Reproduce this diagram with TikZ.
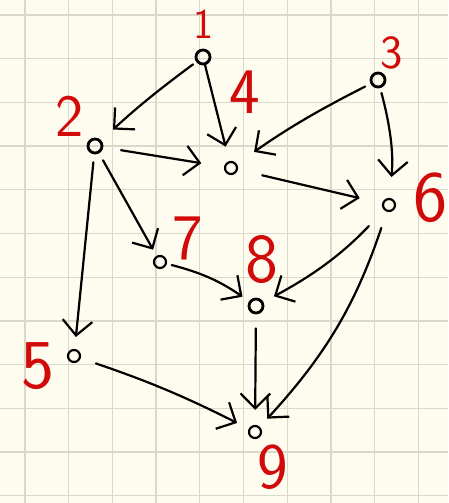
\documentclass[tikz,border=0pt]{standalone}
\usetikzlibrary{arrows.meta}
\definecolor{paper}{HTML}{FDFCEE}
\definecolor{gridc}{HTML}{D9D8CB}
\definecolor{inkred}{HTML}{D10A0A}
\begin{document}
\begin{tikzpicture}[x=1pt,y=1pt,
  vtx/.style={circle,draw=black,line width=2.2pt,minimum size=12pt,inner sep=0pt},
  vtxb/.style={vtx,line width=2.8pt,minimum size=14pt},
  lab/.style={text=inkred,font=\sffamily\fontsize{50}{50}\selectfont,inner sep=0pt},
  arr/.style={-{Straight Barb[angle=90:21pt,line width=2.2pt]},line width=2.2pt,line cap=round}]
\fill[paper] (0,0) rectangle (448,503);
\useasboundingbox (0,0) rectangle (448,503);
\foreach \k in {0,...,9} \draw[gridc,line width=1.3pt] ({25+43.7*\k},0) -- ({25+43.7*\k},503);
\foreach \k in {0,...,11} \draw[gridc,line width=1.3pt] (0,{488-43.7*\k}) -- (448,{488-43.7*\k});
% vertices
\node[vtxb] (n1) at (203,446) {};
\node[vtxb] (n2) at (95,357) {};
\node[vtxb] (n3) at (378,423) {};
\node[vtx]  (n4) at (231,335) {};
\node[vtx]  (n5) at (74,147) {};
\node[vtx]  (n6) at (389,298) {};
\node[vtx]  (n7) at (160,241) {};
\node[vtxb] (n8) at (256,197) {};
\node[vtx]  (n9) at (255,71) {};
% labels
\node[lab,scale=0.85] (l1) at (203,479) {1};
\node[lab,scale=1.2]  (l2) at (70,387) {2};
\node[lab,scale=0.95] (l3) at (392,450) {3};
\node[lab,scale=1.3]  (l4) at (245,411) {4};
\node[lab,scale=1.4]  (l5) at (38,137) {5};
\node[lab,scale=1.45] (l6) at (431,305) {6};
\node[lab,scale=1.3]  (l7) at (188,265) {7};
\node[lab,scale=1.4]  (l8) at (262,243) {8};
\node[lab,scale=1.3]  (l9) at (273,36) {9};
% edges
\draw[arr,shorten <=4pt,shorten >=16pt] (n1) to[bend right=3] (n2);
\draw[arr,shorten <=0pt,shorten >=15pt] (n1) to (n4);
\draw[arr,shorten <=6pt,shorten >=21pt] (n3) to[bend right=4] (n4);
\draw[arr,shorten <=5pt,shorten >=21pt] (n3) to[bend left=10] (n6);
\draw[arr,shorten <=18pt,shorten >=23pt] (n2) to (n4);
\draw[arr,shorten <=25pt,shorten >=23pt] (n4) to (n6);
\draw[arr,shorten <=8pt,shorten >=12pt] (n2) to (n5);
\draw[arr,shorten <=8pt,shorten >=7pt] (n2) to (n7);
\draw[arr,shorten <=5pt,shorten >=8pt] (n7) to[bend left=10] (n8);
\draw[arr,shorten <=22pt,shorten >=12pt] (n6) to[bend left=9] (n8);
\draw[arr,shorten <=14pt,shorten >=15pt] (n8) to (n9);
\draw[arr,shorten <=17pt,shorten >=11pt] (n6) to[bend left=12] (n9);
\draw[arr,shorten <=16pt,shorten >=13pt] (n5) to[bend left=4] (n9);
\end{tikzpicture}
\end{document}
